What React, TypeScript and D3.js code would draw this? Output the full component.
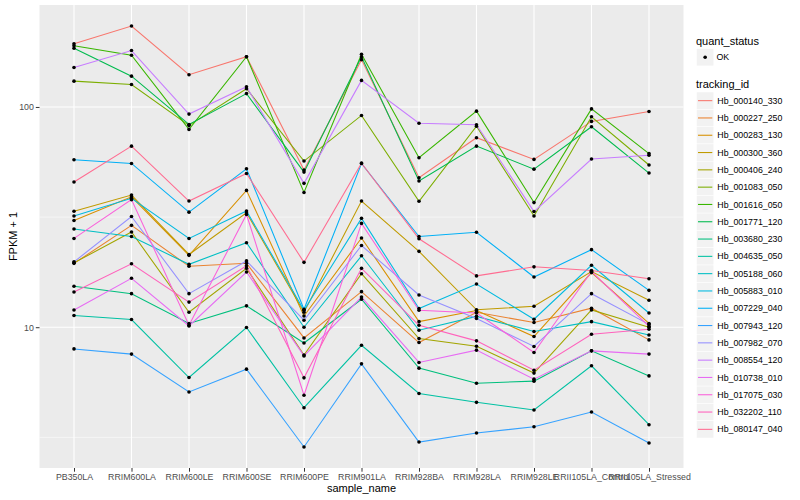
import React, { useEffect, useRef } from 'react';
import * as d3 from 'd3';

const samples = [
  'PB350LA', 'RRIM600LA', 'RRIM600LE', 'RRIM600SE', 'RRIM600PE', 'RRIM901LA',
  'RRIM928BA', 'RRIM928LA', 'RRIM928LE', 'RRII105LA_Control', 'RRII105LA_Stressed',
];

const trackingIds = [
  'Hb_000140_330', 'Hb_000227_250', 'Hb_000283_130', 'Hb_000300_360', 'Hb_000406_240',
  'Hb_001083_050', 'Hb_001616_050', 'Hb_001771_120', 'Hb_003680_230', 'Hb_004635_050',
  'Hb_005188_060', 'Hb_005883_010', 'Hb_007229_040', 'Hb_007943_120', 'Hb_007982_070',
  'Hb_008554_120', 'Hb_010738_010', 'Hb_017075_030', 'Hb_032202_110', 'Hb_080147_040',
];

// ggplot default hue palette for 20 levels
const hueColors = [
  '#F8766D', '#EA8331', '#D89000', '#C09B00', '#A3A500', '#7CAE00', '#39B600', '#00BB4E',
  '#00BF7D', '#00C1A3', '#00BFC4', '#00BAE0', '#00B0F6', '#35A2FF', '#9590FF', '#C77CFF',
  '#E76BF3', '#FA62DB', '#FF62BC', '#FF6C91',
];

// FPKM + 1, one value per sample (same order as samples)
const hb_000140_330 = [193.5, 233, 140, 169, 51.7, 164, 47.7, 72.5, 57.8, 86, 95.4];
const hb_000227_250 = [19.5, 29.0, 18.9, 19.5, 8.94, 14.5, 8.52, 11.7, 10.5, 12.2, 8.76];
const hb_000283_130 = [30.5, 39.1, 21.2, 41.8, 11.25, 25.4, 10.6, 11.9, 9.07, 17.7, 10.4];
const hb_000300_360 = [33.6, 39.8, 21.4, 33.1, 11.7, 37.4, 22.1, 12.0, 12.45, 17.9, 13.26];
const hb_000406_240 = [19.6, 27.05, 11.7, 18.5, 7.47, 17.5, 8.88, 8.2, 6.19, 11.98, 10.0];
const hb_001083_050 = [131, 126.5, 82.4, 121, 56.8, 91.5, 37.3, 81.8, 32, 90.3, 54.5];
const hb_001616_050 = [189.5, 171.8, 79.1, 169, 40.9, 173.6, 58.8, 95.7, 36.8, 98, 61.4];
const hb_001771_120 = [184.8, 138, 83.3, 115, 50.6, 169, 46.1, 66.4, 52.2, 81.3, 50.1];
const hb_003680_230 = [15.35, 14.2, 10.4, 12.5, 8.48, 13.4, 6.52, 5.57, 5.69, 7.81, 6.01];
const hb_004635_050 = [11.3, 10.84, 5.91, 9.97, 4.31, 8.28, 5.0, 4.56, 4.21, 6.68, 3.61];
const hb_005188_060 = [27.9, 25.8, 19.3, 24.2, 10.0, 21.1, 9.69, 11.2, 9.56, 10.6, 9.22];
const hb_005883_010 = [32.0, 38.5, 25.3, 33.7, 11.94, 31.2, 12.16, 15.7, 10.87, 19.1, 11.6];
const hb_007229_040 = [57.6, 55.4, 33.3, 52.4, 12.07, 55.4, 25.8, 27.0, 16.9, 22.5, 14.7];
const hb_007943_120 = [7.97, 7.55, 5.08, 6.45, 2.86, 6.82, 3.01, 3.31, 3.53, 4.12, 2.98];
const hb_007982_070 = [19.8, 31.8, 14.2, 20.0, 10.76, 23.5, 14.0, 10.95, 8.18, 14.2, 10.3];
const hb_008554_120 = [151, 180.4, 92.8, 123.5, 45, 132, 84.4, 83, 33.5, 58, 60.4];
const hb_010738_010 = [11.98, 16.68, 10.13, 17.8, 7.41, 13.7, 6.92, 7.87, 5.81, 7.81, 7.55];
const hb_017075_030 = [25.3, 37.95, 10.2, 32.5, 4.91, 29.6, 11.94, 11.6, 7.68, 17.9, 10.1];
const hb_032202_110 = [14.45, 19.4, 13.0, 19.0, 5.89, 18.5, 10.2, 8.67, 6.38, 9.29, 9.79];
const hb_080147_040 = [45.6, 66.4, 37.4, 49.9, 19.7, 55.6, 25.2, 17.1, 18.8, 18.1, 16.6];

const seriesValues = [
  hb_000140_330, hb_000227_250, hb_000283_130, hb_000300_360, hb_000406_240,
  hb_001083_050, hb_001616_050, hb_001771_120, hb_003680_230, hb_004635_050,
  hb_005188_060, hb_005883_010, hb_007229_040, hb_007943_120, hb_007982_070,
  hb_008554_120, hb_010738_010, hb_017075_030, hb_032202_110, hb_080147_040,
];

const yMajor = [10, 100];
const yMinor = [Math.pow(10, 0.5), Math.pow(10, 1.5), Math.pow(10, 2.5)];

const FONT = '"Liberation Sans", Arial, Helvetica, sans-serif';

const App: React.FC = () => {
  const svgRef = useRef<SVGSVGElement>(null);

  useEffect(() => {
    if (!svgRef.current) return;
    const width = 800;
    const height = 500;
    const panel = { left: 39.5, right: 683.5, top: 5, bottom: 468 };

    const svg = d3.select(svgRef.current);
    svg.selectAll('*').remove();

    const x = d3.scalePoint<string>()
      .domain(samples)
      .range([panel.left, panel.right])
      .padding(0.6);

    // log scale with ggplot's 5% expansion in log space
    const all = seriesValues.flat();
    const lo = Math.log10(d3.min(all) as number);
    const hi = Math.log10(d3.max(all) as number);
    const pad = (hi - lo) * 0.05;
    const y = d3.scaleLog()
      .domain([Math.pow(10, lo - pad), Math.pow(10, hi + pad)])
      .range([panel.bottom, panel.top]);

    svg.append('rect')
      .attr('width', width).attr('height', height).attr('fill', '#fff');

    // panel
    svg.append('rect')
      .attr('x', panel.left).attr('y', panel.top)
      .attr('width', panel.right - panel.left).attr('height', panel.bottom - panel.top)
      .attr('fill', '#EBEBEB');

    const [d0, d1] = y.domain();
    svg.append('g').selectAll('line')
      .data(yMinor.filter(v => v >= d0 && v <= d1))
      .join('line')
      .attr('x1', panel.left).attr('x2', panel.right)
      .attr('y1', d => y(d)).attr('y2', d => y(d))
      .attr('stroke', '#fff').attr('stroke-width', 0.55);

    svg.append('g').selectAll('line')
      .data(yMajor)
      .join('line')
      .attr('x1', panel.left).attr('x2', panel.right)
      .attr('y1', d => y(d)).attr('y2', d => y(d))
      .attr('stroke', '#fff').attr('stroke-width', 1.1);

    svg.append('g').selectAll('line')
      .data(samples)
      .join('line')
      .attr('x1', d => x(d)!).attr('x2', d => x(d)!)
      .attr('y1', panel.top).attr('y2', panel.bottom)
      .attr('stroke', '#fff').attr('stroke-width', 1.1);

    // lines
    const line = d3.line<number>()
      .x((_, i) => x(samples[i])!)
      .y(d => y(d));

    svg.append('g').selectAll('path')
      .data(seriesValues)
      .join('path')
      .attr('d', d => line(d))
      .attr('fill', 'none')
      .attr('stroke', (_, i) => hueColors[i])
      .attr('stroke-width', 1.07);

    // points
    const pts = seriesValues.flatMap(vals => vals.map((v, i) => ({ s: samples[i], v })));
    svg.append('g').selectAll('circle')
      .data(pts)
      .join('circle')
      .attr('cx', d => x(d.s)!)
      .attr('cy', d => y(d.v))
      .attr('r', 1.8)
      .attr('fill', '#000');

    // axes
    const yAxis = d3.axisLeft(y).tickValues(yMajor).tickFormat(d => String(d)).tickSizeOuter(0).tickSize(3.7).tickPadding(2);
    const gy = svg.append('g')
      .attr('transform', `translate(${panel.left},0)`)
      .call(yAxis);
    gy.select('.domain').remove();
    gy.selectAll('line').attr('stroke', '#333333');
    gy.selectAll('text').attr('fill', '#4D4D4D').attr('font-size', '8.8px').attr('font-family', FONT);

    const xAxis = d3.axisBottom(x).tickSizeOuter(0).tickSize(3.7).tickPadding(2);
    const gx = svg.append('g')
      .attr('transform', `translate(0,${panel.bottom})`)
      .call(xAxis);
    gx.select('.domain').remove();
    gx.selectAll('line').attr('stroke', '#333333');
    gx.selectAll('text').attr('fill', '#4D4D4D').attr('font-size', '8.8px').attr('font-family', FONT);

    svg.append('text')
      .attr('x', (panel.left + panel.right) / 2)
      .attr('y', 492)
      .attr('text-anchor', 'middle')
      .attr('font-size', '11px')
      .attr('font-family', FONT)
      .attr('fill', '#000')
      .text('sample_name');

    svg.append('text')
      .attr('transform', `translate(16.5,${(panel.top + panel.bottom) / 2}) rotate(-90)`)
      .attr('text-anchor', 'middle')
      .attr('font-size', '11px')
      .attr('font-family', FONT)
      .attr('fill', '#000')
      .text('FPKM + 1');

    // legends
    const lg = svg.append('g').attr('font-family', FONT);
    const keyX = 696.5;
    const keyW = 17.3;

    lg.append('text').attr('x', 696).attr('y', 44.5).attr('font-size', '11px').text('quant_status');
    lg.append('rect').attr('x', keyX).attr('y', 48.6).attr('width', keyW).attr('height', keyW)
      .attr('fill', '#F2F2F2').attr('stroke', '#fff').attr('stroke-width', 0.5);
    lg.append('circle').attr('cx', keyX + keyW / 2).attr('cy', 48.6 + keyW / 2).attr('r', 1.8).attr('fill', '#000');
    lg.append('text').attr('x', 716.5).attr('y', 48.6 + keyW / 2).attr('dy', '0.35em')
      .attr('font-size', '8.8px').attr('fill', '#000').text('OK');

    lg.append('text').attr('x', 696).attr('y', 88).attr('font-size', '11px').text('tracking_id');

    const key0 = 92;
    const keys = lg.append('g').selectAll('g')
      .data(trackingIds)
      .join('g')
      .attr('transform', (_, i) => `translate(${keyX},${key0 + i * keyW})`);
    keys.append('rect')
      .attr('width', keyW).attr('height', keyW)
      .attr('fill', '#F2F2F2').attr('stroke', '#fff').attr('stroke-width', 0.5);
    keys.append('line')
      .attr('x1', 1.5).attr('x2', keyW - 1.5)
      .attr('y1', keyW / 2).attr('y2', keyW / 2)
      .attr('stroke', (_, i) => hueColors[i]).attr('stroke-width', 1.07);
    keys.append('text')
      .attr('x', keyW + 3.5).attr('y', keyW / 2).attr('dy', '0.35em')
      .attr('font-size', '8.8px').attr('fill', '#000')
      .text(d => d);
  }, []);

  return (
    <svg
      ref={svgRef}
      width={800}
      height={500}
      style={{ position: 'absolute', left: 0, top: 0, display: 'block' }}
    />
  );
};

export default App;
